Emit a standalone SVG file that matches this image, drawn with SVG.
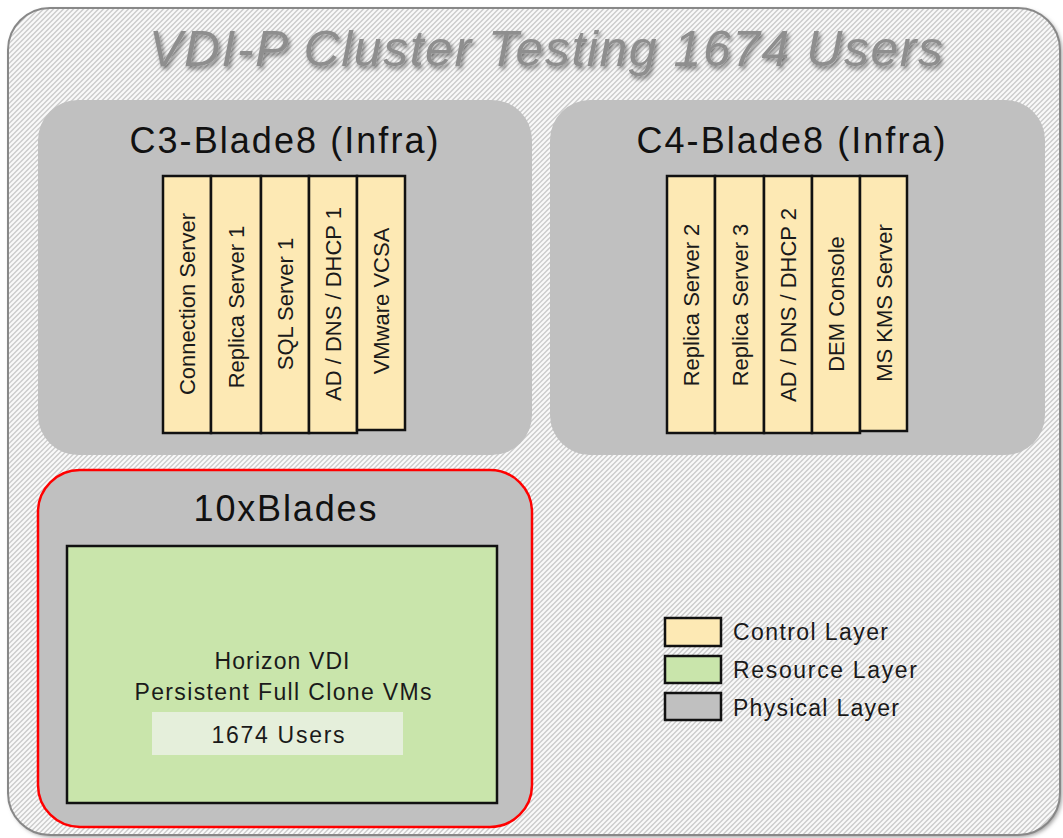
<svg xmlns="http://www.w3.org/2000/svg" width="1063" height="838" viewBox="0 0 1063 838">
  <defs>
    <pattern id="hatch" width="5" height="5" patternUnits="userSpaceOnUse">
      <rect width="5" height="5" fill="#cdcdcd"/>
      <path d="M-1,6 L6,-1 M-1,1 L1,-1 M4,6 L6,4" stroke="#fafafa" stroke-width="2"/>
    </pattern>
    <filter id="tshadow" x="-5%" y="-40%" width="110%" height="180%">
      <feGaussianBlur in="SourceAlpha" stdDeviation="2.2" result="b"/>
      <feOffset in="b" dx="2" dy="3" result="o"/>
      <feComponentTransfer in="o" result="s">
        <feFuncA type="linear" slope="0.5"/>
      </feComponentTransfer>
      <feMerge>
        <feMergeNode in="s"/>
        <feMergeNode in="SourceGraphic"/>
      </feMerge>
    </filter>
    <filter id="shadow" x="-5%" y="-5%" width="110%" height="110%">
      <feGaussianBlur stdDeviation="2"/>
    </filter>
  </defs>
  <style>
    .phys { fill: #c0c0c0; }
    .ctrl { fill: #fde9b4; stroke: #111; stroke-width: 2.5; }
    .res { fill: #c9e5ab; stroke: #111; stroke-width: 2.5; }
    .lbl { font-family: "Liberation Sans", Arial, sans-serif; fill: #1a1a1a; }
    .col { font-size: 22px; text-anchor: middle; }
    .hdr { font-size: 36px; text-anchor: middle; fill: #111; }
    .mid { font-size: 23px; text-anchor: middle; }
    .leg { font-size: 23px; }
  </style>
  <rect width="1063" height="838" fill="#ffffff"/>

  <g id="cluster">
    <rect x="10" y="10" width="1052" height="827" rx="42" fill="#999" filter="url(#shadow)"/>
    <rect x="8" y="8" width="1052" height="827" rx="42" fill="url(#hatch)" stroke="#888" stroke-width="2"/>
    <text x="546" y="66" font-family="'Liberation Sans', Arial, sans-serif" font-style="italic" font-size="50" text-anchor="middle" textLength="794" lengthAdjust="spacing" fill="#8e8e8e" filter="url(#tshadow)">VDI-P Cluster Testing 1674 Users</text>
  </g>

  <g id="c3-blade8">
    <rect class="phys" x="38" y="100" width="494" height="355" rx="40"/>
    <text class="lbl hdr" x="284" y="153" textLength="309" lengthAdjust="spacing">C3-Blade8 (Infra)</text>
    <rect class="ctrl" x="163" y="176" width="48" height="257"/>
    <rect class="ctrl" x="211" y="176" width="50" height="257"/>
    <rect class="ctrl" x="261" y="176" width="48" height="257"/>
    <rect class="ctrl" x="309" y="176" width="48" height="257"/>
    <rect class="ctrl" x="357" y="176" width="48" height="254"/>
    <text class="lbl col" transform="translate(195,304) rotate(-90)">Connection Server</text>
    <text class="lbl col" transform="translate(244,307) rotate(-90)">Replica Server 1</text>
    <text class="lbl col" transform="translate(293,304) rotate(-90)">SQL Server 1</text>
    <text class="lbl col" transform="translate(341,304) rotate(-90)">AD / DNS / DHCP 1</text>
    <text class="lbl col" transform="translate(389,301) rotate(-90)">VMware VCSA</text>
  </g>

  <g id="c4-blade8">
    <rect class="phys" x="550" y="100" width="495" height="355" rx="40"/>
    <text class="lbl hdr" x="791" y="153" textLength="309" lengthAdjust="spacing">C4-Blade8 (Infra)</text>
    <rect class="ctrl" x="667" y="176" width="48" height="257"/>
    <rect class="ctrl" x="715" y="176" width="49" height="257"/>
    <rect class="ctrl" x="764" y="176" width="48" height="257"/>
    <rect class="ctrl" x="812" y="176" width="48" height="257"/>
    <rect class="ctrl" x="860" y="176" width="47" height="255"/>
    <text class="lbl col" transform="translate(699,305) rotate(-90)">Replica Server 2</text>
    <text class="lbl col" transform="translate(748,305) rotate(-90)">Replica Server 3</text>
    <text class="lbl col" transform="translate(796,305) rotate(-90)">AD / DNS / DHCP 2</text>
    <text class="lbl col" transform="translate(844,304) rotate(-90)">DEM Console</text>
    <text class="lbl col" transform="translate(892,303) rotate(-90)">MS KMS Server</text>
  </g>

  <g id="blades10">
    <rect class="phys" x="38" y="470" width="494" height="357" rx="42" stroke="#ff0000" stroke-width="2.5"/>
    <text class="lbl hdr" x="285" y="521" textLength="183" lengthAdjust="spacing">10xBlades</text>
  </g>

  <g id="horizon-vdi">
    <rect class="res" x="67" y="546" width="430" height="257"/>
    <text class="lbl mid" x="282" y="669" textLength="135" lengthAdjust="spacing">Horizon VDI</text>
    <text class="lbl mid" x="283" y="700" textLength="297" lengthAdjust="spacing">Persistent Full Clone VMs</text>
  </g>

  <g id="users">
    <rect x="152" y="712" width="251" height="43" fill="#e5efdb"/>
    <text class="lbl mid" x="278" y="743" textLength="133" lengthAdjust="spacing">1674 Users</text>
  </g>

  <g id="legend">
    <rect class="ctrl" x="665" y="618" width="56" height="28"/>
    <rect class="res" x="665" y="656" width="56" height="27"/>
    <rect class="phys" x="665" y="693" width="56" height="27" stroke="#111" stroke-width="2.5"/>
    <text class="lbl leg" x="733" y="640" textLength="155" lengthAdjust="spacing">Control Layer</text>
    <text class="lbl leg" x="733" y="678" textLength="184" lengthAdjust="spacing">Resource Layer</text>
    <text class="lbl leg" x="733" y="716" textLength="166" lengthAdjust="spacing">Physical Layer</text>
  </g>

  <g id="connectors"/>
</svg>
